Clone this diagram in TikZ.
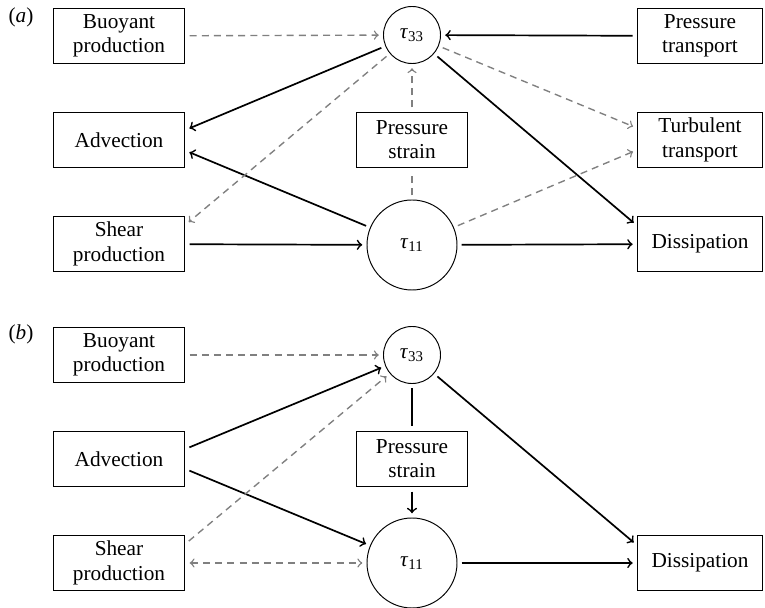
\documentclass[tikz,border=0pt]{standalone}
\usepackage{fontspec}
\setmainfont{Liberation Serif}
\begin{document}
\begin{tikzpicture}[x=0.47pt, y=-0.47pt,
    term/.style={draw, line width=0.45pt, minimum width=62pt, minimum height=26.3pt,
        inner sep=1pt, align=center, font=\fontsize{10}{11.4}\selectfont},
    stress/.style={draw, circle, line width=0.45pt, inner sep=0pt, font=\fontsize{10}{12}\selectfont},
    solidlink/.style={->, black, line width=0.8pt, shorten >=2pt, shorten <=2pt},
    dashlink/.style={->, gray, line width=0.65pt, dash pattern=on 3.3pt off 2.4pt,
        shorten >=2pt, shorten <=2pt}]
    \def\tauc#1{\textit{τ}\textsubscript{#1}}

    \useasboundingbox (0,0) rectangle (765,608);

    % (a)
    \node[font=\fontsize{10}{12}\selectfont] (laba) at (21,17) {(\textit{a})};
    \node[term] (buoy) at (119,36) {Buoyant\\production};
    \node[term] (adv) at (119,140) {Advection};
    \node[term] (shear) at (119,244) {Shear\\production};
    \node[stress, minimum size=26.8pt] (tthree) at (412,35) {\tauc{33}};
    \node[stress, minimum size=42.3pt] (tone) at (412,245) {\tauc{11}};
    \node[term, minimum width=52.6pt] (pstrain) at (412,140) {Pressure\\strain};
    \node[term, minimum width=58.8pt] (ptrans) at (700,36) {Pressure\\transport};
    \node[term, minimum width=58.8pt] (turb) at (700,140) {Turbulent\\transport};
    \node[term, minimum width=58.8pt] (diss) at (700,244) {Dissipation};

    \draw[dashlink] (buoy) -- (tthree);
    \draw[solidlink] (ptrans) -- (tthree);
    \draw[solidlink] (tthree) -- ([yshift=4.7pt]adv.east);
    \draw[solidlink] (tone) -- ([yshift=-5pt]adv.east);
    \draw[dashlink] (tthree) -- ([yshift=9pt]shear.east);
    \draw[solidlink] (shear) -- (tone);
    \draw[dashlink, -] (tone) -- (pstrain);
    \draw[dashlink] (pstrain) -- (tthree);
    \draw[dashlink] (tthree) -- ([yshift=5.6pt]turb.west);
    \draw[dashlink] (tone) -- ([yshift=-4.7pt]turb.west);
    \draw[solidlink] (tthree) -- ([yshift=-4.7pt]diss.north west);
    \draw[solidlink] (tone) -- (diss);

    % (b)
    \node[font=\fontsize{10}{12}\selectfont] (labb) at (21,334) {(\textit{b})};
    \node[term] (buoyb) at (119,355) {Buoyant\\production};
    \node[term] (advb) at (119,459) {Advection};
    \node[term] (shearb) at (119,563) {Shear\\production};
    \node[stress, minimum size=26.8pt] (tthreeb) at (412,355) {\tauc{33}};
    \node[stress, minimum size=42.3pt] (toneb) at (412,563) {\tauc{11}};
    \node[term, minimum width=52.6pt] (pstrainb) at (412,459) {Pressure\\strain};
    \node[term, minimum width=58.8pt] (dissb) at (700,563) {Dissipation};

    \draw[dashlink] (buoyb) -- (tthreeb);
    \draw[solidlink] ([yshift=4.7pt]advb.east) -- (tthreeb);
    \draw[solidlink] ([yshift=-4.7pt]advb.east) -- (toneb);
    \draw[dashlink] ([yshift=9pt]shearb.east) -- (tthreeb);
    \draw[dashlink, <->] (shearb) -- (toneb);
    \draw[solidlink, -] (tthreeb) -- (pstrainb);
    \draw[solidlink] (pstrainb) -- (toneb);
    \draw[solidlink] (tthreeb) -- ([yshift=-5pt]dissb.north west);
    \draw[solidlink] (toneb) -- (dissb);

\end{tikzpicture}
\end{document}
